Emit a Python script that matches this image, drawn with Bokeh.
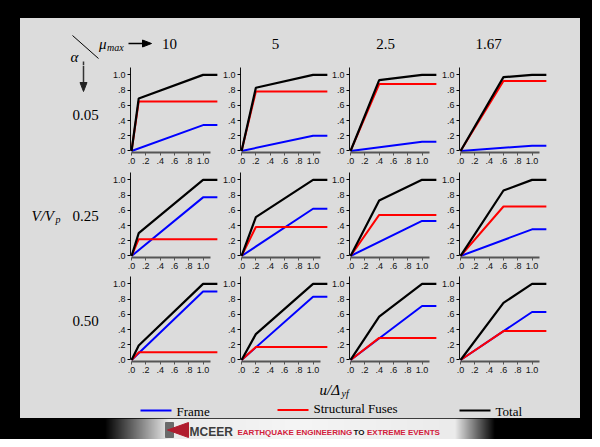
import numpy as np
from bokeh.plotting import figure
from bokeh.layouts import column, row
from bokeh.models import Range1d, FixedTicker
from bokeh.core.properties import value
from bokeh.embed import file_html
from bokeh.resources import INLINE

# ---------------- data ----------------
mu_max_labels = ["10", "5", "2.5", "1.67"]
alpha_labels = ["0.05", "0.25", "0.50"]
fuse_yield_u = [0.1, 0.2, 0.4, 0.6]      # u/Δyf where the fuses yield
frame_yield_u = 1.0
u_end = 1.2

frame_peak_a005 = [0.34, 0.20, 0.12, 0.07]
fuse_peak_a005 = [0.65, 0.78, 0.88, 0.92]
total_knee_a005 = [0.69, 0.83, 0.93, 0.97]
total_peak_a005 = [1.0, 1.0, 1.0, 1.0]

frame_peak_a025 = [0.77, 0.62, 0.46, 0.35]
fuse_peak_a025 = [0.22, 0.38, 0.54, 0.65]
total_knee_a025 = [0.30, 0.51, 0.73, 0.86]
total_peak_a025 = [1.0, 1.0, 1.0, 1.0]

frame_peak_a050 = [0.90, 0.83, 0.71, 0.63]
fuse_peak_a050 = [0.10, 0.17, 0.29, 0.38]
total_knee_a050 = [0.19, 0.34, 0.57, 0.75]
total_peak_a050 = [1.0, 1.0, 1.0, 1.0]

axis_ticks = [0, 0.2, 0.4, 0.6, 0.8, 1]
axis_tick_labels = [".0", ".2", ".4", ".6", ".8", "1.0"]
legend_labels = ["Frame", "Structural Fuses", "Total"]
series_colors = ["#0000ff", "#ff0000", "#000000"]

frame_rows = [frame_peak_a005, frame_peak_a025, frame_peak_a050]
fuse_rows = [fuse_peak_a005, fuse_peak_a025, fuse_peak_a050]
knee_rows = [total_knee_a005, total_knee_a025, total_knee_a050]
peak_rows = [total_peak_a005, total_peak_a025, total_peak_a050]

# ---------------- styling ----------------
GRAY = "#dcdcdc"
SERIF = "Liberation Serif"
SANS = "Liberation Sans"
W = 592
INNER_W = 560
FRAME_H = 87
ROW_H = [105, 104, 105]
PANEL_W = [110, 109, 110, 109]
PX_PER_U = 72.3


def deco_fig(width, height, bottom=0, color=GRAY, yflip=True):
    fh = height - bottom
    yr = Range1d(fh, 0) if yflip else Range1d(0, fh)
    p = figure(width=width, height=height, output_backend="svg", toolbar_location=None,
               title=None, x_range=Range1d(0, width), y_range=yr,
               x_axis_location=None, y_axis_location=None,
               min_border_left=0, min_border_right=0,
               min_border_top=0, min_border_bottom=bottom,
               background_fill_color=color, border_fill_color=color,
               outline_line_color=None, styles={"background-color": color})
    p.grid.visible = False
    return p


def txt(p, x, y, s, size="15px", style="normal", font=SERIF, align="left",
        color="black", baseline="middle"):
    p.text(x=[x], y=[y], text=[s], text_font=value(font), text_font_size=size,
           text_font_style=style, text_align=align, text_baseline=baseline,
           text_color=color)


# ---------------- header (inner coords) ----------------
hdr = deco_fig(INNER_W, 47)
hdr.segment(x0=[52], y0=[17], x1=[78], y1=[40], line_color="black", line_width=1)
txt(hdr, 78.5, 25, "μ", size="15px", style="italic")
txt(hdr, 86.5, 29, "max", size="10px", style="italic")
hdr.segment(x0=[108], y0=[25], x1=[124], y1=[25], line_color="black", line_width=1.5)
hdr.patch(x=[131, 122, 122], y=[25, 21.5, 28.5], color="black")
txt(hdr, 54, 38, "α", size="15px", style="italic", align="center")
hdr.segment(x0=[63], y0=[43], x1=[63], y1=[47], line_color="#333", line_width=1.5)
col_centers = [149, 255, 365, 468]
for cx, lab in zip(col_centers, mu_max_labels):
    txt(hdr, cx, 25, lab, size="15px", align="center")


# ---------------- panels ----------------
def panel(r, c, h, w):
    p = figure(width=w, height=h, output_backend="svg", toolbar_location=None, title=None,
               x_range=Range1d(-0.015, -0.015 + (w - 20) / PX_PER_U),
               y_range=Range1d(-0.02, 1.123),
               min_border_left=20, min_border_right=0, min_border_top=0,
               min_border_bottom=h - FRAME_H,
               background_fill_color=GRAY, border_fill_color=GRAY,
               outline_line_color=None, styles={"background-color": GRAY})
    p.grid.visible = False
    overrides = {t: l for t, l in zip(axis_ticks, axis_tick_labels)}
    for ax in (p.xaxis[0], p.yaxis[0]):
        ax.ticker = FixedTicker(ticks=axis_ticks)
        ax.major_label_overrides = overrides
        ax.major_label_text_font = SANS
        ax.major_label_text_font_size = "9px"
        ax.major_label_text_color = "#111111"
        ax.major_tick_in = 0
        ax.major_tick_out = 3
        ax.minor_tick_line_color = None
        ax.major_label_standoff = 2
        ax.bounds = (0, 1.1)
    p.xaxis.axis_line_color = "#555555"
    p.xaxis.axis_line_width = 2
    p.xaxis.major_tick_line_color = "#555555"
    p.yaxis.axis_line_color = "#111111"
    p.yaxis.axis_line_width = 1
    xf = fuse_yield_u[c]
    fp = frame_rows[r][c]
    fu = fuse_rows[r][c]
    tk = knee_rows[r][c]
    tp = peak_rows[r][c]
    p.line([0, frame_yield_u, u_end], [0, fp, fp], line_color=series_colors[0], line_width=2)
    p.line([0, xf, u_end], [0, fu, fu], line_color=series_colors[1], line_width=2)
    p.line([0, xf, frame_yield_u, u_end], [0, tk, tp, tp], line_color=series_colors[2], line_width=2.2)
    return p


label_y = [49, 45, 46]
rows = []
for r in range(3):
    h = ROW_H[r]
    left = deco_fig(89, h, bottom=h - FRAME_H)
    txt(left, 65, label_y[r], alpha_labels[r], size="15px", align="center")
    if r == 0:
        left.segment(x0=[63], y0=[0], x1=[63], y1=[18], line_color="#333", line_width=1.5)
        left.patch(x=[63, 59.5, 66.5], y=[26, 17, 17], color="#222")
    if r == 1:
        txt(left, 11, label_y[r], "V/V", size="15px", style="italic")
        txt(left, 35, label_y[r] + 4, "p", size="10px", style="italic")
    right = deco_fig(33, h, bottom=h - FRAME_H)
    rows.append(row(left, *[panel(r, c, h, PANEL_W[c]) for c in range(4)], right,
                    styles={"background-color": GRAY}))

# ---------------- footer / legend (inner coords) ----------------
ftr = deco_fig(INNER_W, 39)
txt(ftr, 299, 10, "u/Δ", size="15px", style="italic")
txt(ftr, 321, 14, "yf", size="10px", style="italic")
leg_x = [120, 257, 439]
leg_y = [31, 30.5, 31]
txt_y = [31.5, 29, 31.5]
for lx, ly, ty, lab, col in zip(leg_x, leg_y, txt_y, legend_labels, series_colors):
    ftr.segment(x0=[lx], y0=[ly], x1=[lx + 31], y1=[ly], line_color=col, line_width=2)
    txt(ftr, lx + 36, ty, lab, size="13px")

inner = column(hdr, *rows, ftr, styles={"background-color": GRAY})

# ---------------- black frame ----------------
top_black = deco_fig(W, 18, color="black")
left_black = deco_fig(20, 400, color="black")
right_black = deco_fig(12, 400, color="black")

# ---------------- banner ----------------
ban = deco_fig(W, 21, color="black", yflip=False)
xs = np.arange(W)
lum = np.interp(xs, [0, 104, 168, 296, 454, 494, W], [0, 0, 235, 245, 235, 0, 0])
img = np.zeros((1, W, 4), dtype=np.uint8)
img[..., 0] = lum
img[..., 1] = lum
img[..., 2] = lum
img[..., 3] = 255
ban.image_rgba(image=[img.view(np.uint32).reshape(1, W)], x=0, y=0, dw=W, dh=21)
ban.quad(left=[165], right=[173], bottom=[2], top=[17], color="#6a6a6a")
ban.patch(x=[167, 188, 188], y=[9.5, 17, 2], color="#b01c2e")
txt(ban, 189, 8, "MCEER", size="12px", style="bold", font=SANS, color="#3c3c3c")
txt(ban, 237, 7.5, "EARTHQUAKE ENGINEERING", size="8px", style="bold", font=SANS, color="#d2203c")
txt(ban, 353, 7.5, "TO", size="8px", style="bold", font=SANS, color="#111111")
txt(ban, 366.5, 7.5, "EXTREME EVENTS", size="8px", style="bold", font=SANS, color="#d2203c")

layout = column(top_black, row(left_black, inner, right_black, styles={"background-color": "black"}),
                ban, styles={"background-color": "black"})
open("out.html", "w").write(file_html(layout, INLINE))
